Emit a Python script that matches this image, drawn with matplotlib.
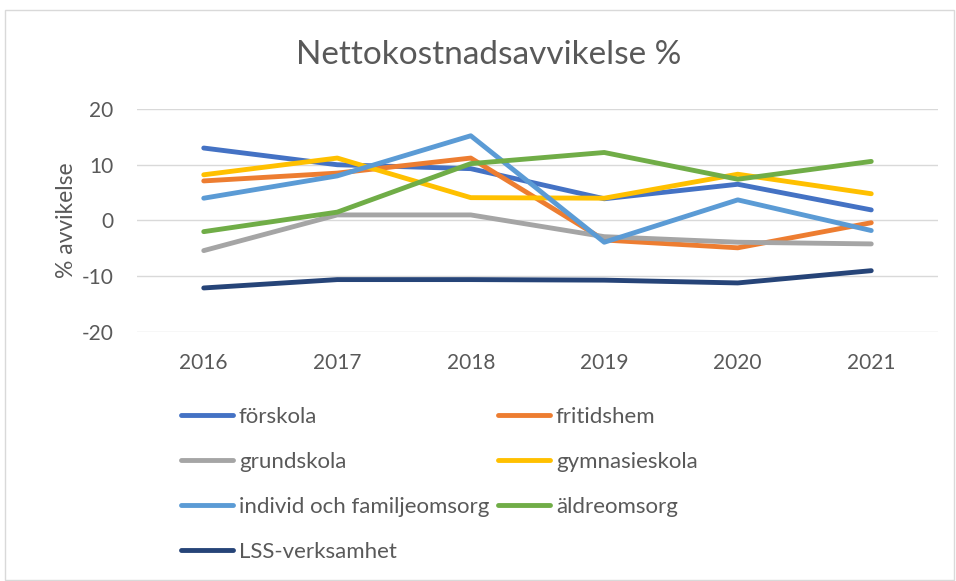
import matplotlib.pyplot as plt
from matplotlib.patches import Rectangle

years = ["2016", "2017", "2018", "2019", "2020", "2021"]

forskola = [13.0, 10.0, 9.3, 3.9, 6.5, 1.9]
fritidshem = [7.1, 8.5, 11.2, -3.5, -4.9, -0.4]
grundskola = [-5.4, 1.0, 1.0, -2.9, -3.9, -4.2]
gymnasieskola = [8.2, 11.2, 4.1, 4.0, 8.3, 4.8]
individ = [4.0, 8.0, 15.2, -3.9, 3.7, -1.8]
aldreomsorg = [-2.0, 1.5, 10.2, 12.2, 7.4, 10.6]
lss = [-12.1, -10.6, -10.6, -10.7, -11.2, -9.0]

series = [
    ("förskola", forskola, "#4472C4"),
    ("fritidshem", fritidshem, "#ED7D31"),
    ("grundskola", grundskola, "#A5A5A5"),
    ("gymnasieskola", gymnasieskola, "#FFC000"),
    ("individ och familjeomsorg", individ, "#5B9BD5"),
    ("äldreomsorg", aldreomsorg, "#70AD47"),
    ("LSS-verksamhet", lss, "#264478"),
]

plt.rcParams['font.family'] = ['Lato', 'DejaVu Sans']
plt.rcParams['axes.unicode_minus'] = False
txt = "#595959"

fig = plt.figure(figsize=(9.56, 5.81), dpi=100)
fig.patches.append(Rectangle((5 / 956, 0.002), 949 / 956, 1 - 10 / 581 - 0.002,
                             transform=fig.transFigure, fill=False,
                             edgecolor="#D9D9D9", linewidth=1))

# axes: x 137..938 px, y 109..332 px (20..-20)
ax = fig.add_axes([137 / 956, 1 - 332 / 581, (938 - 137) / 956, (332 - 109) / 581])

x = list(range(len(years)))
handles = {}
for name, vals, col in series:
    h, = ax.plot(x, vals, color=col, linewidth=3.5, solid_capstyle="round",
                 solid_joinstyle="round", label=name)
    handles[name] = h

ax.set_xlim(-0.5, 5.5)
ax.set_ylim(-20, 20)
ax.set_yticks([-20, -10, 0, 10, 20])
ax.set_xticks(x)
ax.set_xticklabels(years)
ax.yaxis.grid(True, color="#D9D9D9", linewidth=1)
ax.set_axisbelow(True)
for s in ax.spines.values():
    s.set_visible(False)
ax.tick_params(axis="both", length=0, labelsize=15, labelcolor=txt)
ax.tick_params(axis="x", pad=15)
ax.tick_params(axis="y", pad=17)
ax.set_ylabel("% avvikelse", fontsize=16.5, color=txt, labelpad=3)

fig.text(489 / 956, 1 - 55 / 581, "Nettokostnadsavvikelse %", ha="center",
         va="center", fontsize=24, color=txt)

order = ["förskola", "grundskola", "individ och familjeomsorg", "LSS-verksamhet",
         "fritidshem", "gymnasieskola", "äldreomsorg"]
leg = fig.legend([handles[n] for n in order], order, ncol=2, frameon=False,
                 loc="upper left", bbox_to_anchor=(161 / 956, 1 - 387 / 581),
                 fontsize=16, handlelength=2.35, handletextpad=0.25,
                 columnspacing=0.4, labelspacing=1.12, labelcolor=txt)

fig.savefig("out.png", dpi=100)
